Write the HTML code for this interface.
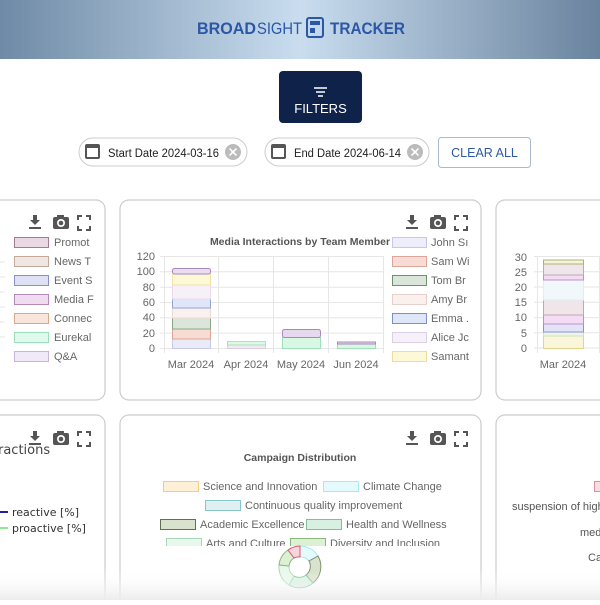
<!DOCTYPE html>
<html><head><style>
body{margin:0;width:600px;height:600px;overflow:hidden;background:#fff;font-family:"Liberation Sans",sans-serif;}
svg text{font-family:"Liberation Sans",sans-serif;}
</style></head><body>
<svg width="600" height="600" viewBox="0 0 600 600" xmlns="http://www.w3.org/2000/svg">
<defs>
<linearGradient id="hd" x1="0" x2="1" y1="0" y2="0">
<stop offset="0" stop-color="#6f8aa6"/><stop offset="0.5" stop-color="#c9ddef"/><stop offset="1" stop-color="#6a839e"/>
</linearGradient>
<linearGradient id="fade" x1="0" x2="0" y1="0" y2="1">
<stop offset="0" stop-color="#fff" stop-opacity="0"/><stop offset="1" stop-color="#ececec"/>
</linearGradient>
<g id="icons" fill="#555">
<rect x="-6" y="-7" width="4" height="6"/><polygon points="-9,-2 1,-2 -4,3"/><rect x="-10" y="5" width="12" height="2"/>
<rect x="14" y="-5" width="16" height="12" rx="2"/><rect x="18" y="-7" width="7" height="3"/><circle cx="22" cy="1" r="4" fill="#fff"/><circle cx="22" cy="1" r="2.3"/>
<path d="M39 -2 v-4 h4 M47 -6 h4 v4 M51 4 v4 h-4 M43 8 h-4 v-4" stroke="#555" stroke-width="2" fill="none"/>
</g>
</defs>
<rect width="600" height="59" fill="url(#hd)"/>
<text x="197" y="34" font-size="17" font-weight="bold" fill="#2c56a6" textLength="59" lengthAdjust="spacingAndGlyphs">BROAD</text>
<text x="257" y="34" font-size="17" fill="#2c56a6" textLength="45" lengthAdjust="spacingAndGlyphs">SIGHT</text>
<rect x="307" y="18" width="16" height="19" rx="2" fill="none" stroke="#2c56a6" stroke-width="2"/>
<rect x="310" y="21" width="10" height="4" fill="#2c56a6"/><rect x="310" y="28" width="5" height="5" fill="#2c56a6"/>
<text x="330" y="34" font-size="17" font-weight="bold" fill="#2c56a6" textLength="75" lengthAdjust="spacingAndGlyphs">TRACKER</text>

<rect x="279" y="71" width="83" height="52" rx="4" fill="#0f2249"/>
<path d="M314 88h13M316 92h9M318 96h5" stroke="#fff" stroke-width="1.5"/>
<text x="320.5" y="113" font-size="13" fill="#fff" text-anchor="middle">FILTERS</text>

<rect x="79" y="138" width="168" height="28" rx="14" fill="#fff" stroke="#ccc"/>
<rect x="85" y="144" width="15" height="15" rx="2" fill="#555"/><rect x="87" y="148" width="11" height="9" fill="#fff"/>
<text x="108" y="157" font-size="11.5" fill="#222" textLength="111" lengthAdjust="spacingAndGlyphs">Start Date 2024-03-16</text>
<circle cx="233" cy="152" r="8" fill="#bbb"/><path d="M229.5 148.5l7 7M236.5 148.5l-7 7" stroke="#fff" stroke-width="1.6"/>
<rect x="265" y="138" width="164" height="28" rx="14" fill="#fff" stroke="#ccc"/>
<rect x="271" y="144" width="15" height="15" rx="2" fill="#555"/><rect x="273" y="148" width="11" height="9" fill="#fff"/>
<text x="294" y="157" font-size="11.5" fill="#222" textLength="107" lengthAdjust="spacingAndGlyphs">End Date 2024-06-14</text>
<circle cx="415" cy="152" r="8" fill="#bbb"/><path d="M411.5 148.5l7 7M418.5 148.5l-7 7" stroke="#fff" stroke-width="1.6"/>
<rect x="438.5" y="137.5" width="92" height="30" rx="3" fill="#fff" stroke="#a9b9cc"/>
<text x="484.5" y="157" font-size="12.5" fill="#2c5aa6" text-anchor="middle">CLEAR ALL</text>

<g fill="#fff" stroke="#ccc" stroke-width="1.2">
<rect x="-20" y="200" width="125" height="200" rx="9"/>
<rect x="120" y="200" width="361" height="200" rx="9"/>
<rect x="496" y="200" width="130" height="200" rx="9"/>
<rect x="-20" y="415" width="125" height="200" rx="9"/>
<rect x="120" y="415" width="361" height="200" rx="9"/>
<rect x="496" y="415" width="130" height="200" rx="9"/>
</g>
<use href="#icons" x="39" y="222"/><use href="#icons" x="416" y="222"/>
<use href="#icons" x="39" y="438"/><use href="#icons" x="416" y="438"/>

<g stroke="#e5e5e5"><path d="M0 262h5M0 277h5M0 292h5M0 307h5M0 322h5M0 337h5"/></g>
<g stroke-width="1">
<rect x="14.5" y="237.5" width="34" height="10" fill="#ead8e4" stroke="#a57a92"/>
<rect x="14.5" y="256.5" width="34" height="10" fill="#f1e7e2" stroke="#c4a89b"/>
<rect x="14.5" y="275.5" width="34" height="10" fill="#dee0f4" stroke="#8c90c4"/>
<rect x="14.5" y="294.5" width="34" height="10" fill="#f0dcf0" stroke="#b58ab8"/>
<rect x="14.5" y="313.5" width="34" height="10" fill="#f8e6da" stroke="#d8a988"/>
<rect x="14.5" y="332.5" width="34" height="10" fill="#defaec" stroke="#9ae0bb"/>
<rect x="14.5" y="351.5" width="34" height="10" fill="#f1e9f8" stroke="#c7b6dc"/>
</g>
<g font-size="11" fill="#666">
<text x="54" y="246">Promot</text><text x="54" y="265">News T</text><text x="54" y="284">Event S</text><text x="54" y="303">Media F</text><text x="54" y="322">Connec</text><text x="54" y="341">Eurekal</text><text x="54" y="360">Q&amp;A</text>
</g>

<text x="300" y="245" font-size="10.5" font-weight="bold" fill="#555" text-anchor="middle">Media Interactions by Team Member</text>
<g stroke="#e6e6e6">
<path d="M160 256.5h223M160 271.8h223M160 287.2h223M160 302.5h223M160 317.8h223M160 333.1h223M160 348.5h223"/>
<path d="M164.5 256v97M218.5 256v97M273.5 256v97M328.5 256v97M383.5 256v97"/>
</g>
<g font-size="11" fill="#666" text-anchor="end">
<text x="155" y="260">120</text><text x="155" y="275">100</text><text x="155" y="291">80</text><text x="155" y="306">60</text><text x="155" y="321">40</text><text x="155" y="337">20</text><text x="155" y="352">0</text>
</g>
<g font-size="11" fill="#666" text-anchor="middle">
<text x="191" y="368">Mar 2024</text><text x="246" y="368">Apr 2024</text><text x="301" y="368">May 2024</text><text x="356" y="368">Jun 2024</text>
</g>
<g stroke-width="1">
<rect x="172.5" y="339" width="38" height="9.5" fill="#eaeaf8" stroke="#c8c8e6"/>
<rect x="172.5" y="329" width="38" height="10" fill="#f8dcd4" stroke="#dca69a"/>
<rect x="172.5" y="318" width="38" height="11" fill="#dae6da" stroke="#8aa88a"/>
<rect x="172.5" y="308" width="38" height="10" fill="#faf0ee" stroke="#eddad5"/>
<rect x="172.5" y="299" width="38" height="9" fill="#dee6f8" stroke="#93a6d6"/>
<rect x="172.5" y="285" width="38" height="14" fill="#f6f0f8" stroke="#e6dcec"/>
<rect x="172.5" y="274" width="38" height="11" fill="#fdf8d6" stroke="#f0e4a8"/>
<rect x="172.5" y="268.5" width="38" height="5.5" rx="2" fill="#ecdcf2" stroke="#a88ab8"/>
<rect x="227.5" y="345" width="38" height="3.5" fill="#f1e9f4" stroke="#dcd0e0"/>
<rect x="227.5" y="341.5" width="38" height="3.5" fill="#dff8e8" stroke="#a8e4c0"/>
<rect x="282.5" y="337.5" width="38" height="11" fill="#d8f8e4" stroke="#a0e0b8"/>
<rect x="282.5" y="329.5" width="38" height="8" rx="2" fill="#e6d8ee" stroke="#a88ab8"/>
<rect x="337.5" y="344" width="38" height="4.5" fill="#d8f8e4" stroke="#a0e0b8"/>
<rect x="337.5" y="342" width="38" height="2" fill="#e6d8ee" stroke="#a88ab8"/>
</g>
<g stroke-width="1">
<rect x="392.5" y="237.5" width="34" height="10" fill="#eeeefa" stroke="#c8c8e6"/>
<rect x="392.5" y="256.5" width="34" height="10" fill="#f8dcd4" stroke="#dca69a"/>
<rect x="392.5" y="275.5" width="34" height="10" fill="#dae6da" stroke="#6f906f"/>
<rect x="392.5" y="294.5" width="34" height="10" fill="#faf0ee" stroke="#e8d0ca"/>
<rect x="392.5" y="313.5" width="34" height="10" fill="#dee6f8" stroke="#7d90c6"/>
<rect x="392.5" y="332.5" width="34" height="10" fill="#f6f0f8" stroke="#ddd0e6"/>
<rect x="392.5" y="351.5" width="34" height="10" fill="#fdf8d6" stroke="#ecdca0"/>
</g>
<g font-size="11" fill="#666">
<text x="431" y="246">John Sı</text><text x="431" y="265">Sam Wi</text><text x="431" y="284">Tom Br</text><text x="431" y="303">Amy Br</text><text x="431" y="322">Emma .</text><text x="431" y="341">Alice Jc</text><text x="431" y="360">Samant</text>
</g>

<g stroke="#e6e6e6">
<path d="M534 256.5h70M534 271.8h70M534 287h70M534 302.3h70M534 317.6h70M534 332.8h70M534 348h70"/>
<path d="M537.5 256v97M599.5 256v97"/>
</g>
<g font-size="11" fill="#666" text-anchor="end">
<text x="527" y="261">30</text><text x="527" y="276">25</text><text x="527" y="291">20</text><text x="527" y="306">15</text><text x="527" y="321">10</text><text x="527" y="337">5</text><text x="527" y="352">0</text>
</g>
<text x="563" y="368" font-size="11" fill="#666" text-anchor="middle">Mar 2024</text>
<g stroke-width="1">
<rect x="543.5" y="336" width="40" height="12.5" fill="#fbf6da" stroke="#e0d490"/>
<rect x="543.5" y="332" width="40" height="4" fill="#eef6e8" stroke="#d0e0c0"/>
<rect x="543.5" y="324" width="40" height="8" fill="#e4e4f8" stroke="#9090d0"/>
<rect x="543.5" y="315" width="40" height="9" fill="#f4dcf4" stroke="#c090c8"/>
<rect x="543.5" y="300" width="40" height="15" fill="#f0e6ea" stroke="#c0a8b4"/>
<rect x="543.5" y="280" width="40" height="20" fill="#f0f8fc" stroke="#e0eef4"/>
<rect x="543.5" y="275" width="40" height="5" fill="#f4dcf4" stroke="#c090c8"/>
<rect x="543.5" y="264" width="40" height="11" fill="#eee6ea" stroke="#c0a8b4"/>
<rect x="543.5" y="260" width="40" height="4" fill="#f4f4dc" stroke="#b0b070"/>
</g>

<text x="-2" y="454" font-size="13" fill="#444" style="font-family:'DejaVu Sans',sans-serif">ractions</text>
<path d="M0 512h8" stroke="#2020a0" stroke-width="2"/>
<path d="M0 528h8" stroke="#90e890" stroke-width="2"/>
<text x="12" y="516" font-size="11" fill="#333" style="font-family:'DejaVu Sans',sans-serif">reactive [%]</text>
<text x="12" y="532" font-size="11" fill="#333" style="font-family:'DejaVu Sans',sans-serif">proactive [%]</text>

<text x="300" y="461" font-size="10.5" font-weight="bold" fill="#555" text-anchor="middle">Campaign Distribution</text>
<g stroke-width="1">
<rect x="163.5" y="481.5" width="35" height="10" fill="#fdf0d6" stroke="#f0cc88"/>
<rect x="323.5" y="481.5" width="35" height="10" fill="#e4fafc" stroke="#a8e8f0"/>
<rect x="205.5" y="500.5" width="35" height="10" fill="#e0f0f0" stroke="#88c4cc"/>
<rect x="160.5" y="519.5" width="35" height="10" fill="#d8e2cc" stroke="#607050"/>
<rect x="306.5" y="519.5" width="35" height="10" fill="#d8f0e0" stroke="#80c098"/>
<rect x="166.5" y="538.5" width="35" height="10" fill="#e8f8ec" stroke="#a8d8b8"/>
<rect x="290.5" y="538.5" width="35" height="10" fill="#dcf0d4" stroke="#88b878"/>
</g>
<g font-size="11" fill="#666">
<text x="203" y="490">Science and Innovation</text><text x="363" y="490">Climate Change</text>
<text x="245" y="509">Continuous quality improvement</text>
<text x="200" y="528">Academic Excellence</text><text x="346" y="528">Health and Wellness</text>
<text x="206" y="547">Arts and Culture</text><text x="330" y="547">Diversity and Inclusion</text>
</g>
<rect x="150" y="546" width="300" height="3" fill="#fff"/>
<g stroke-width="1">
<path d="M300 546 A21 21 0 0 1 318 556 L309 561 A11 11 0 0 0 300 557Z" fill="#e4fafc" stroke="#a8e8f0"/>
<path d="M318 556 A21 21 0 0 1 313 583 L306 575 A11 11 0 0 0 309 561Z" fill="#d8e2cc" stroke="#809070"/>
<path d="M313 583 A21 21 0 0 1 289 585 L294 576 A11 11 0 0 0 306 575Z" fill="#d8f0e0" stroke="#80c098"/>
<path d="M289 585 A21 21 0 0 1 279 565 L289 566 A11 11 0 0 0 294 576Z" fill="#e8f8ec" stroke="#a8d8b8"/>
<path d="M279 565 A21 21 0 0 1 288 550 L294 558 A11 11 0 0 0 289 566Z" fill="#dcf0d4" stroke="#88b878"/>
<path d="M288 550 A21 21 0 0 1 300 546 L300 557 A11 11 0 0 0 294 558Z" fill="#f8d4dc" stroke="#d06070"/>
</g>

<rect x="594.5" y="481.5" width="10" height="10" fill="#f8dce4" stroke="#d890a8"/>
<g font-size="11" fill="#555">
<text x="512" y="510">suspension of high</text>
<text x="580" y="536">med</text>
<text x="588" y="561">Ca</text>
</g>
<rect x="0" y="570" width="600" height="30" fill="url(#fade)"/>
</svg>
</body></html>
